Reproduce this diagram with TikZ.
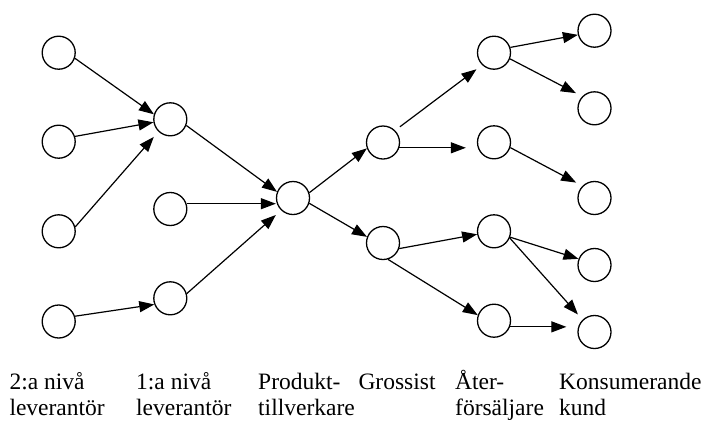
\documentclass[tikz,border=0pt]{standalone}
\usepackage{fontspec}
\setmainfont{Liberation Serif}
\usetikzlibrary{arrows.meta}
\begin{document}
\begin{tikzpicture}[x=1pt,y=-1pt,
  member/.style={circle,draw,line width=1.3pt,minimum size=33pt,inner sep=0pt},
  flow/.style={line width=1.2pt,-{Triangle[length=15pt,width=11pt]}},
  stage/.style={anchor=base west,inner sep=0pt,align=left,
    font=\fontsize{23.5}{26}\selectfont}]
\useasboundingbox (0,0) rectangle (706,421);

% 2:a nivå leverantörer
\node[member] (c1a) at (58.7,52.7) {};
\node[member] (c1b) at (58.7,141.7) {};
\node[member] (c1c) at (58.7,231.3) {};
\node[member] (c1d) at (58.7,321.5) {};
% 1:a nivå leverantörer
\node[member] (c2a) at (170.3,119.3) {};
\node[member] (c2b) at (170.3,209) {};
\node[member] (c2c) at (170.3,298.3) {};
% produkttillverkare
\node[member] (c3) at (293,198) {};
% grossister
\node[member] (c4a) at (383,142.5) {};
\node[member] (c4b) at (383,243) {};
% återförsäljare
\node[member] (c5a) at (494,52.7) {};
\node[member] (c5b) at (494,142.3) {};
\node[member] (c5c) at (494,231.3) {};
\node[member] (c5d) at (494,320.7) {};
% konsumenter
\node[member] (c6a) at (594.5,30.7) {};
\node[member] (c6b) at (594.5,108.3) {};
\node[member] (c6c) at (594.5,198) {};
\node[member] (c6d) at (594.5,265) {};
\node[member] (c6e) at (594.5,332) {};

% flödet genom kedjan
\draw[flow] (c1a.-19) -- (c2a.163);
\draw[flow] (c1b.18) -- (c2a.-170);
\draw[flow,shorten >=7pt] (c1c.15) -- (c2a.-134);
\draw[flow] (c1d.18) -- (c2c.-159);

\draw[flow] (c2a.-21) -- (c3.159);
\draw[flow] (c2b.18) -- (c2b.18 -| c3.west);
\draw[flow,shorten >=7pt] (c2c.16) -- (c3.-134);

\draw[flow] (c3.18) -- (c4a.-160);
\draw[flow] (c3.-18) -- (c4b.159);

\draw[flow,shorten <=6pt,shorten >=7pt] (c4a.45) -- (c5a.-134);
\draw[flow,shorten >=11pt] (c4a.-18) -- (c4a.-18 -| c5b.west);
\draw[flow] (c4b.-19) -- (c5c.-170);
\draw[flow] (c4b.-73) -- (c5d.161);

\draw[flow] (c5a.18) -- (c6a.-166);
\draw[flow,shorten >=7pt] (c5a.-21) -- (c6b.136);
\draw[flow,shorten >=7pt] (c5b.-18) -- (c6c.135);
\draw[flow] (c5c.-20) -- (c6d.159);
\draw[flow,shorten >=7pt] (c5c.-23) -- (c6e.134);
\draw[flow,shorten >=11pt] (c5d.-21) -- (c5d.-21 -| c6e.west);

% stegens namn (tvåradiga noder har sin baslinje på sista raden)
\node[stage] (t1) at (9.3,415) {2:a nivå\\leverantör};
\node[stage] (t2) at (136,415) {1:a nivå\\leverantör};
\node[stage] (t3) at (258,415) {Produkt-\\tillverkare};
\node[stage] (t4) at (358.3,389) {Grossist};
\node[stage] (t5) at (455,415) {Åter-\\försäljare};
\node[stage] (t6) at (559,415) {Konsumerande\\kund};
\end{tikzpicture}
\end{document}
